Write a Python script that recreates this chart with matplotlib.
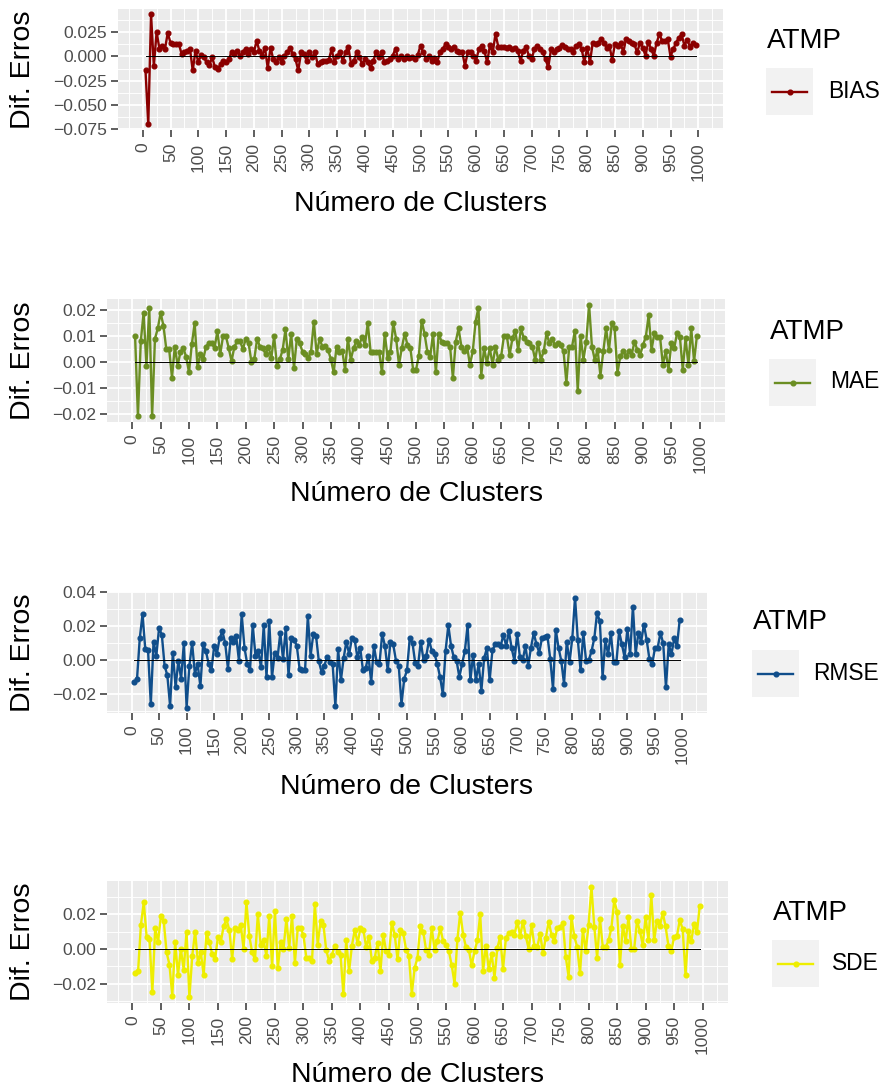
import numpy as np
import matplotlib
matplotlib.use("Agg")
import matplotlib.pyplot as plt
from matplotlib.ticker import MultipleLocator, FuncFormatter

plt.rcParams['font.family'] = ['Liberation Sans', 'DejaVu Sans']

# Number of clusters (x axis)
clusters = list(range(5, 1000, 5))

bias = [
    -0.0145, -0.070, 0.043, -0.010, 0.025, 0.008, 0.011, 0.0075, 0.024, 0.014,
    0.013, 0.0125, 0.013, 0.0024, 0.004, 0.005, 0.008, -0.0145, 0.006, -0.006,
    0.0014, -0.001, -0.006, -0.009, -0.001, -0.011, -0.013, -0.008, -0.0045, -0.0055,
    -0.003, 0.0047, 0.0024, 0.0057, 0.0007, 0.004, 0.008, 0.0024, 0.0074, 0.004,
    0.016, 0.0057, 0.0007, 0.009, -0.012, 0.009, -0.003, -0.006, -0.001, -0.006,
    0.0007, 0.004, 0.009, 0.0024, -0.003, -0.0145, 0.004, 0.0024, -0.0044, 0.004,
    -0.001, 0.004, -0.008, -0.0055, -0.0045, -0.0045, -0.0034, 0.0074, -0.0055, 0.0007,
    0.004, -0.0045, 0.004, 0.010, -0.008, -0.0045, 0.004, -0.001, -0.008, -0.003,
    -0.006, -0.012, -0.0045, 0.004, -0.001, 0.004, -0.006, -0.0045, -0.003, 0.0007,
    0.008, -0.003, 0.0007, -0.003, 0.0007, -0.002, -0.001, -0.003, 0.0014, 0.011,
    0.004, -0.003, 0.0007, -0.0045, -0.002, -0.006, 0.004, 0.0074, 0.0125, 0.010,
    0.008, 0.010, 0.0057, 0.004, 0.0047, -0.0095, 0.004, 0.0047, 0.0007, -0.0045,
    0.0074, 0.011, 0.0057, -0.006, 0.0115, 0.004, 0.023, 0.010, 0.010, 0.010,
    0.009, 0.010, 0.008, 0.009, 0.0057, -0.0045, 0.0057, 0.010, 0.0007, -0.003,
    0.0074, 0.011, 0.008, 0.0047, -0.003, -0.011, 0.0074, 0.0047, 0.0074, 0.009,
    0.0115, 0.010, 0.008, 0.0074, 0.004, 0.011, 0.0125, 0.0074, -0.006, 0.009,
    -0.006, 0.014, 0.013, 0.014, 0.0176, 0.014, 0.009, 0.011, -0.0034, 0.0125,
    0.011, 0.014, 0.004, 0.018, 0.016, 0.014, 0.0125, 0.004, 0.014, 0.009,
    0.0007, 0.015, 0.0074, 0.0007, 0.014, 0.0226, 0.016, 0.016, 0.0176, -0.0003,
    0.0074, 0.014, 0.019, 0.0226, 0.011, 0.017, 0.010, 0.014, 0.0115,
]

mae = [
    0.010, -0.021, 0.008, 0.019, -0.0014, 0.021, -0.021, 0.009, 0.013, 0.019,
    0.014, 0.005, 0.005, -0.006, 0.006, -0.0014, 0.004, 0.0054, 0.002, -0.004,
    0.007, 0.015, -0.002, 0.003, 0.001, 0.006, 0.0073, 0.0073, 0.0054, 0.012,
    0.003, 0.010, 0.010, 0.0054, 0.0003, 0.006, 0.008, 0.008, 0.005, 0.009,
    0.0073, 0.0, 0.001, 0.009, 0.006, 0.0054, 0.003, 0.006, 0.0015, 0.010,
    -0.0014, 0.001, 0.0047, 0.0126, 0.001, 0.011, -0.0023, 0.009, 0.0073, 0.004,
    0.003, 0.0015, 0.004, 0.0156, 0.003, 0.009, 0.006, 0.0063, 0.0047, 0.0011,
    -0.004, 0.006, 0.004, 0.0044, -0.003, 0.009, 0.0009, 0.0054, 0.008, 0.0066,
    0.0098, 0.0066, 0.015, 0.004, 0.004, 0.004, 0.004, -0.004, 0.011, 0.0015,
    0.004, 0.015, 0.009, -0.001, 0.0054, 0.011, 0.0066, 0.0054, -0.003, -0.003,
    0.0024, 0.016, 0.011, 0.004, 0.0019, 0.011, -0.004, 0.011, 0.0079, 0.0073,
    0.0073, 0.006, -0.0061, 0.0079, 0.013, 0.006, 0.0041, 0.006, -0.001, 0.0041,
    0.0156, 0.021, -0.0052, 0.0054, -0.0004, 0.0054, -0.001, 0.006, 0.0009, 0.0022,
    0.0101, 0.0101, 0.0028, 0.0092, 0.0121, 0.0047, 0.013, 0.0092, 0.0079, 0.0073,
    0.006, 0.0009, 0.0073, 0.0009, 0.0041, 0.0111, 0.0073, 0.0088, 0.0066, 0.0073,
    0.0066, 0.0041, -0.008, 0.006, 0.006, 0.0121, -0.0112, 0.0101, 0.0009, 0.0079,
    0.0222, 0.006, 0.0009, 0.0047, -0.0052, 0.0041, 0.013, 0.0047, 0.0149, 0.013,
    -0.0042, 0.0022, 0.0041, 0.0022, 0.0041, 0.0028, 0.0079, 0.0047, 0.0028, 0.0066,
    0.0098, 0.0181, 0.0047, 0.0111, 0.0098, 0.0098, -0.001, 0.0041, -0.0029, 0.0073,
    0.0054, 0.0111, 0.0098, -0.0029, 0.0092, -0.001, 0.013, 0.0003, 0.0101,
]

rmse = [
    -0.013, -0.011, 0.013, 0.027, 0.0064, 0.0058, -0.026, 0.011, 0.0025, 0.019,
    0.015, -0.0033, -0.009, -0.027, 0.0045, -0.016, -0.0004, -0.011, 0.010, -0.028,
    -0.0033, 0.010, -0.008, -0.0023, -0.0155, 0.0093, 0.0054, -0.0023, -0.006, 0.0083,
    0.0039, 0.013, 0.017, 0.010, -0.005, 0.013, 0.011, 0.014, -0.0004, 0.027,
    0.0074, -0.0023, -0.006, 0.0206, 0.0025, 0.0054, -0.0043, 0.0206, -0.010, 0.023,
    -0.010, 0.0045, 0.0012, 0.016, 0.0006, 0.019, -0.009, 0.013, 0.012, 0.0083,
    -0.005, -0.0058, -0.0058, 0.026, 0.0025, 0.0155, 0.014, -0.0008, -0.007, -0.0033,
    0.0019, -0.0014, -0.0023, -0.027, 0.0064, -0.012, 0.0012, 0.011, 0.0035, 0.013,
    0.012, 0.0016, 0.0074, -0.0058, -0.0047, 0.0025, -0.013, 0.0083, -0.0014, -0.0023,
    0.0155, 0.0083, -0.006, 0.011, 0.0093, -0.0004, -0.0033, -0.026, -0.011, -0.006,
    0.013, 0.010, -0.0019, -0.0033, 0.011, 0.0, 0.0025, 0.012, 0.0054, 0.0035,
    -0.0023, -0.010, -0.020, 0.0054, 0.0206, 0.0083, 0.0016, -0.0004, -0.010, -0.0023,
    0.0054, 0.0206, -0.012, 0.0031, -0.012, -0.0023, -0.018, 0.0012, 0.0070, -0.012,
    0.0058, 0.0093, 0.0093, 0.0083, 0.0151, 0.0083, 0.017, 0.007, -0.0004, 0.0155,
    0.0016, 0.0, 0.0083, -0.0033, 0.0074, 0.016, 0.0093, 0.0045, 0.013, 0.0136,
    0.0141, 0.0006, -0.017, 0.018, 0.0074, -0.0004, -0.014, 0.011, -0.0014, 0.013,
    0.037, 0.012, -0.006, 0.016, -0.0004, 0.0, 0.0054, 0.013, 0.028, 0.0229,
    -0.010, 0.012, 0.0035, 0.016, -0.0014, -0.0014, 0.017, 0.0093, 0.0016, 0.0186,
    0.0035, 0.0316, 0.0039, 0.016, 0.011, 0.0210, 0.012, 0.0006, -0.0023, 0.007,
    0.0074, 0.016, 0.010, -0.016, 0.0093, 0.0035, 0.013, 0.0083, 0.024,
]

sde = [
    -0.014, -0.013, 0.014, 0.027, 0.007, 0.006, -0.025, 0.012, 0.004, 0.019,
    0.016, -0.002, -0.009, -0.027, 0.004, -0.015, 0.0, -0.012, 0.010, -0.028,
    -0.004, 0.010, -0.008, -0.002, -0.015, 0.009, 0.004, -0.003, -0.006, 0.007,
    0.004, 0.013, 0.017, 0.011, -0.006, 0.012, 0.011, 0.014, 0.0, 0.027,
    0.0076, -0.002, -0.006, 0.020, 0.0025, 0.005, -0.004, 0.019, -0.010, 0.022,
    -0.011, 0.004, 0.0, 0.017, 0.0006, 0.019, -0.008, 0.012, 0.012, 0.008,
    -0.005, -0.005, -0.007, 0.026, 0.0025, 0.016, 0.014, -0.0008, -0.007, -0.0033,
    0.0019, -0.0019, -0.0033, -0.026, 0.0052, -0.013, 0.0019, 0.011, 0.0034, 0.012,
    0.011, 0.0011, 0.0069, -0.007, -0.005, 0.0034, -0.013, 0.0082, -0.0013, -0.0033,
    0.0152, 0.0082, -0.006, 0.011, 0.0091, -0.0004, -0.0042, -0.026, -0.011, -0.005,
    0.013, 0.010, -0.0004, -0.0033, 0.012, -0.0004, 0.0044, 0.012, 0.0044, 0.0025,
    -0.0013, -0.0095, -0.020, 0.0057, 0.021, 0.0082, 0.0011, -0.0004, -0.0095, -0.0013,
    0.0049, 0.020, -0.0128, 0.0019, -0.0118, -0.0027, -0.0166, 0.0006, 0.0069, -0.0118,
    0.0063, 0.0091, 0.0095, 0.0082, 0.0158, 0.0076, 0.0158, 0.0072, 0.0, 0.0139,
    0.0015, 0.0011, 0.0088, -0.0023, 0.0063, 0.0158, 0.0082, 0.0044, 0.0120, 0.0124,
    0.0149, -0.0046, -0.016, 0.0183, 0.0072, 0.0011, -0.014, 0.011, -0.0013, 0.0139,
    0.036, 0.0129, -0.005, 0.0170, 0.0011, 0.0011, 0.0049, 0.0120, 0.028, 0.0215,
    -0.0090, 0.0133, 0.0044, 0.0183, 0.0, 0.0, 0.0164, 0.0101, 0.0025, 0.0183,
    0.0049, 0.031, 0.0049, 0.0164, 0.0130, 0.0210, 0.0130, 0.0019, -0.0013, 0.0069,
    0.0076, 0.0167, 0.0114, -0.015, 0.0101, 0.0044, 0.0145, 0.0095, 0.025,
]

series_names = ["BIAS", "MAE", "RMSE", "SDE"]
series_values = [bias, mae, rmse, sde]
series_colors = ["#8B0000", "#6B8E23", "#104E8B", "#EEEE00"]
y_major_steps = [0.025, 0.01, 0.02, 0.02]
y_decimals = [3, 2, 2, 2]
x_tick_step = 50
legend_title = "ATMP"
x_title = "Número de Clusters"
y_title = "Dif. Erros"

for vals in series_values:
    if len(vals) != len(clusters):
        raise ValueError("series length mismatch")

W, H = 883, 1092
fig = plt.figure(figsize=(W / 100, H / 100), dpi=100)


def px_axes(l, t, r, b):
    return fig.add_axes([l / W, 1 - b / H, (r - l) / W, (b - t) / H])


def fx(x):
    return x / W


def fy(y):
    return 1 - y / H


# panel boxes (left, top, right, bottom) in pixels
panels = [(118, 9, 723, 130), (107, 299, 725, 422), (107, 592, 707, 713), (107, 881, 728, 1003)]
xlabel_y = [204, 494, 787, 1075]
# legend: title (x, y), key box (l, t, r, b), label (x, y)
legends = [
    ((767, 41), (766, 68, 813, 115), (828, 92)),
    ((770, 332), (769, 359, 816, 406), (830, 382)),
    ((753, 622), (752, 650, 799, 697), (813, 673)),
    ((773, 913), (772, 940, 819, 987), (832, 964)),
]

x = np.array(clusters, dtype=float)
xspan = x.max() - x.min()
xlim = (x.min() - 0.05 * xspan, x.max() + 0.05 * xspan)

for i, (name, vals, col) in enumerate(zip(series_names, series_values, series_colors)):
    y = np.array(vals)
    ax = px_axes(*panels[i])
    ax.set_facecolor("#EBEBEB")
    for s in ax.spines.values():
        s.set_visible(False)
    ax.set_axisbelow(True)

    yspan = y.max() - y.min()
    ax.set_ylim(y.min() - 0.05 * yspan, y.max() + 0.05 * yspan)
    ax.set_xlim(*xlim)

    ax.xaxis.set_major_locator(MultipleLocator(x_tick_step))
    ax.xaxis.set_minor_locator(MultipleLocator(x_tick_step / 2))
    ax.yaxis.set_major_locator(MultipleLocator(y_major_steps[i]))
    ax.yaxis.set_minor_locator(MultipleLocator(y_major_steps[i] / 2))

    d = y_decimals[i]

    def fmt(v, pos, d=d):
        s = f"{v:.{d}f}"
        if float(s) == 0:
            s = f"{0:.{d}f}"
        return s.replace("-", "\u2212")

    ax.yaxis.set_major_formatter(FuncFormatter(fmt))
    ax.xaxis.set_major_formatter(FuncFormatter(lambda v, p: f"{int(round(v))}"))

    ax.grid(which="major", color="white", lw=1.3)
    ax.grid(which="minor", color="white", lw=0.65)
    ax.tick_params(which="major", length=5, width=1.1, color="#333333",
                   labelsize=12.6, labelcolor="#4D4D4D", pad=3)
    ax.tick_params(which="minor", length=0)
    ax.tick_params(axis="x", labelrotation=90, pad=4)

    ax.plot(x, y, color=col, lw=1.7, marker="o", ms=3.4, zorder=3)
    ax.plot(x, np.zeros_like(x), color="black", lw=0.7, zorder=4)

    l, t, r, b = panels[i]
    fig.text(fx((l + r) / 2), fy(xlabel_y[i]), x_title, ha="center", va="center",
             fontsize=20.5, color="black")
    fig.text(fx(23), fy((t + b) / 2), y_title, ha="center", va="center",
             rotation=90, fontsize=20.5, color="black")

    (tx, ty), kb, (lx, ly) = legends[i]
    fig.text(fx(tx), fy(ty), legend_title, ha="left", va="center", fontsize=20, color="black")
    kax = px_axes(*kb)
    kax.set_facecolor("#F2F2F2")
    for s in kax.spines.values():
        s.set_visible(False)
    kax.set_xticks([])
    kax.set_yticks([])
    kax.set_xlim(0, 1)
    kax.set_ylim(0, 1)
    kax.plot([0.12, 0.88], [0.5, 0.5], color=col, lw=1.7)
    kax.plot([0.5], [0.5], color=col, marker="o", ms=3.4)
    fig.text(fx(lx), fy(ly), name, ha="left", va="center", fontsize=16.4, color="black")

fig.savefig("out.png", dpi=100)
